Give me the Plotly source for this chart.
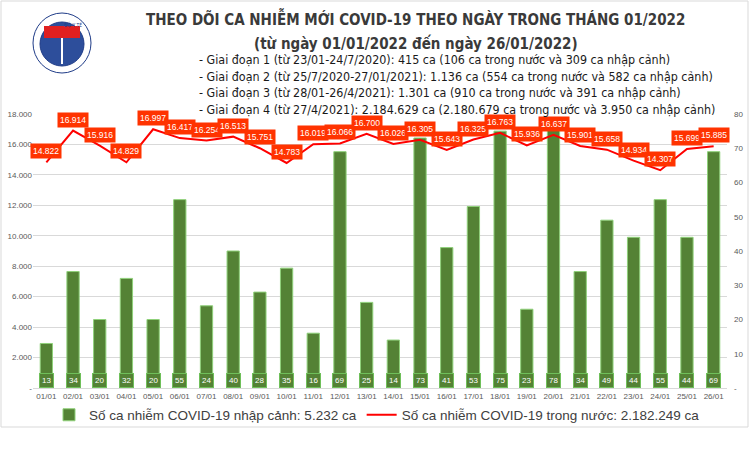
import plotly.graph_objects as go

dates = ["01/01","02/01","03/01","04/01","05/01","06/01","07/01","08/01","09/01","10/01",
         "11/01","12/01","13/01","14/01","15/01","16/01","17/01","18/01","19/01","20/01",
         "21/01","22/01","23/01","24/01","25/01","26/01"]
imported = [13,34,20,32,20,55,24,40,28,35,16,69,25,14,73,41,53,75,23,78,34,49,44,55,44,69]
domestic = [14822,16914,15916,14829,16997,16417,16254,16513,15751,14783,16019,16066,16700,
            16026,16305,15643,16325,16763,15936,16637,15901,15658,14934,14307,15699,15885]
left_ticks = [0,2000,4000,6000,8000,10000,12000,14000,16000,18000]
left_tick_text = ["-","2.000","4.000","6.000","8.000","10.000","12.000","14.000","16.000","18.000"]
right_ticks = [0,10,20,30,40,50,60,70,80]
right_tick_text = ["-","10","20","30","40","50","60","70","80"]

title = "THEO DÕI CA NHIỄM MỚI COVID-19 THEO NGÀY TRONG THÁNG 01/2022"
subtitle = "(từ ngày 01/01/2022 đến ngày 26/01/2022)"
bullets = [
    "- Giai đoạn 1 (từ 23/01-24/7/2020): 415 ca (106 ca trong nước và 309 ca nhập cảnh)",
    "- Giai đoạn 2 (từ 25/7/2020-27/01/2021): 1.136 ca (554 ca trong nước và 582 ca nhập cảnh)",
    "- Giai đoạn 3 (từ 28/01-26/4/2021): 1.301 ca (910 ca trong nước và 391 ca nhập cảnh)",
    "- Giai đoạn 4 (từ 27/4/2021): 2.184.629 ca (2.180.679 ca trong nước và 3.950 ca nhập cảnh)",
]
legend_bar = "Số ca nhiễm COVID-19 nhập cảnh: 5.232 ca"
legend_line = "Số ca nhiễm COVID-19 trong nước: 2.182.249 ca"

W, H = 750, 462
L, R, T, B = 33, 23, 114, 74
PW, PH = W - L - R, H - T - B

def px(x):
    return (x - L) / PW

def py(y):
    return (H - B - y) / PH

def fmt(v):
    return f"{v:,}".replace(",", ".")

fig = go.Figure()
fig.add_trace(go.Bar(
    x=dates, y=imported, name=legend_bar, yaxis="y",
    marker=dict(color="#548235", line=dict(color="#8FD17A", width=1)),
    width=0.46,
))
fig.add_trace(go.Scatter(
    x=dates, y=domestic, name=legend_line, yaxis="y2", mode="lines",
    line=dict(color="#FF0000", width=2),
))

annotations = []
for d, v in zip(dates, domestic):
    annotations.append(dict(
        x=d, y=v, xref="x", yref="y2", text=fmt(v), showarrow=False,
        yshift=11, bgcolor="#FF3300", borderpad=2,
        font=dict(family="Liberation Sans, Arial", size=8.5, color="white"),
    ))
for d, v in zip(dates, imported):
    annotations.append(dict(
        x=d, y=0, xref="x", yref="y", text=str(v), showarrow=False,
        yanchor="middle", yshift=8, bgcolor="#548235", bordercolor="#6FBF5A",
        borderwidth=1, borderpad=2,
        font=dict(family="Liberation Sans, Arial", size=8, color="white"),
    ))

head_font = "DejaVu Sans Condensed, Liberation Sans Narrow, Arial"
annotations.append(dict(
    x=px(415), y=py(18), xref="paper", yref="paper", text="<b>" + title + "</b>",
    showarrow=False, xanchor="center", yanchor="middle",
    font=dict(family=head_font, size=15, color="#3A3A3A"),
))
annotations.append(dict(
    x=px(416), y=py(43), xref="paper", yref="paper", text="<b>" + subtitle + "</b>",
    showarrow=False, xanchor="center", yanchor="middle",
    font=dict(family=head_font, size=15, color="#3A3A3A"),
))
for i, btxt in enumerate(bullets):
    annotations.append(dict(
        x=px(197), y=py(60 + i * 16.4), xref="paper", yref="paper", text=btxt,
        showarrow=False, xanchor="left", yanchor="middle",
        font=dict(family=head_font, size=12.4, color="#1A1A1A"),
    ))
annotations.append(dict(
    x=px(62), y=py(19), xref="paper", yref="paper", text="BỘ Y TẾ",
    showarrow=False, font=dict(size=5, color="#1F3C88"),
))

shapes = [
    dict(type="rect", xref="paper", yref="paper", x0=px(1), x1=px(748), y0=py(427), y1=py(1),
         line=dict(color="#D9D9D9", width=1), fillcolor="rgba(0,0,0,0)", layer="below"),
    # logo
    dict(type="circle", xref="paper", yref="paper", x0=px(33), x1=px(91), y0=py(73), y1=py(13),
         line=dict(color="#1F3C88", width=1), fillcolor="white"),
    dict(type="circle", xref="paper", yref="paper", x0=px(40), x1=px(84), y0=py(66), y1=py(22),
         line=dict(color="#1F3C88", width=1), fillcolor="#2D4E9B"),
    dict(type="rect", xref="paper", yref="paper", x0=px(44), x1=px(80), y0=py(38), y1=py(26),
         line=dict(width=0), fillcolor="#E02020"),
    dict(type="line", xref="paper", yref="paper", x0=px(62), x1=px(62), y0=py(64), y1=py(38),
         line=dict(color="white", width=2)),
]

fig.update_layout(
    width=W, height=H, margin=dict(l=L, r=R, t=T, b=B, autoexpand=False),
    paper_bgcolor="white", plot_bgcolor="white",
    showlegend=True, bargap=0.5,
    legend=dict(orientation="h", x=px(377), xanchor="center", y=py(415), yanchor="middle",
                font=dict(family="Liberation Sans, Arial", size=13.5, color="#404040"),
                itemwidth=30, tracegroupgap=0, bgcolor="rgba(0,0,0,0)"),
    xaxis=dict(type="category", showgrid=False, showline=True, linecolor="#D9D9D9",
               tickfont=dict(family="Liberation Sans, Arial", size=8, color="#595959"),
               ticks="", range=[-0.5, 25.5], automargin=False),
    yaxis=dict(side="right", range=[0, 80], tickvals=right_ticks, ticktext=right_tick_text,
               showgrid=False, zeroline=False, automargin=False, ticklabelstandoff=6,
               tickfont=dict(family="Liberation Sans, Arial", size=8, color="#595959")),
    yaxis2=dict(side="left", overlaying="y", range=[0, 18000], tickvals=left_ticks,
                ticktext=left_tick_text, showgrid=True, gridcolor="#D9D9D9", zeroline=False,
                automargin=False,
                tickfont=dict(family="Liberation Sans, Arial", size=8, color="#595959")),
    annotations=annotations, shapes=shapes,
)

fig.write_html("out.html", config={"displayModeBar": False},
               post_script="document.body.style.margin='0';")
